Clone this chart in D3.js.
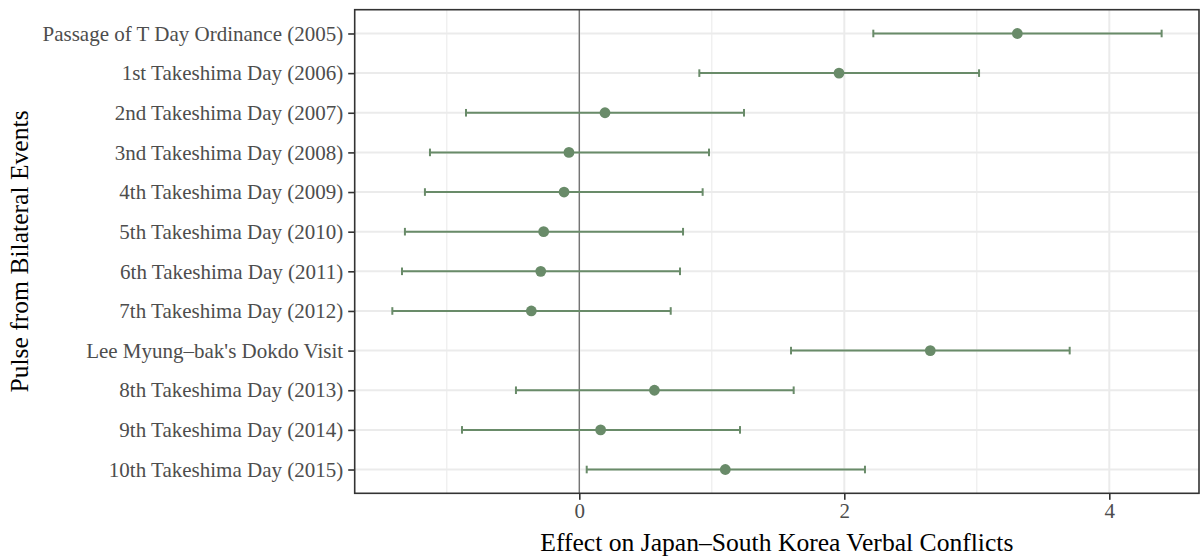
<!DOCTYPE html>
<html>
<head>
<meta charset="utf-8">
<script src="https://cdn.jsdelivr.net/npm/d3@7"></script>
<style>
  html, body { margin: 0; padding: 0; background: #ffffff; }
  svg { display: block; font-family: "Liberation Serif", "Times New Roman", serif; }
</style>
</head>
<body>
<svg id="chart" width="1203" height="559"></svg>
<script>
// Pulse estimates with lower / upper bounds, one row per event
const events = [
  "Passage of T Day Ordinance (2005)",
  "1st Takeshima Day (2006)",
  "2nd Takeshima Day (2007)",
  "3nd Takeshima Day (2008)",
  "4th Takeshima Day (2009)",
  "5th Takeshima Day (2010)",
  "6th Takeshima Day (2011)",
  "7th Takeshima Day (2012)",
  "Lee Myung\u2013bak's Dokdo Visit",
  "8th Takeshima Day (2013)",
  "9th Takeshima Day (2014)",
  "10th Takeshima Day (2015)"
];
const estimates = [3.306, 1.960, 0.194, -0.078, -0.115, -0.269, -0.291, -0.362, 2.649, 0.567, 0.161, 1.102];
const lowerBounds = [2.219, 0.906, -0.855, -1.127, -1.165, -1.316, -1.338, -1.411, 1.598, -0.478, -0.885, 0.056];
const upperBounds = [4.395, 3.017, 1.243, 0.979, 0.931, 0.783, 0.760, 0.690, 3.701, 1.618, 1.213, 2.156];
const majorTicks = [0, 2, 4];
const minorTicks = [-1, 1, 3];
const xTitle = "Effect on Japan\u2013South Korea Verbal Conflicts";
const yTitle = "Pulse from Bilateral Events";

const rows = events.map((name, i) => ({
  name, est: estimates[i], lo: lowerBounds[i], hi: upperBounds[i]
}));

const svg = d3.select("#chart");
const panel = { left: 354.7, top: 9.7, right: 1199, bottom: 493.3 };

const x = d3.scaleLinear()
  .domain([-1.695, 4.677])
  .range([panel.left, panel.right]);

// discrete axis with 0.6 band of padding at both ends
const y = d3.scalePoint()
  .domain(events)
  .range([panel.top, panel.bottom])
  .padding(0.6);

const markColor = "#698B69";
const gridColor = "#EBEBEB";

// gridlines
const grid = svg.append("g");
grid.selectAll("line.minor").data(minorTicks).join("line")
  .attr("x1", d => x(d)).attr("x2", d => x(d))
  .attr("y1", panel.top).attr("y2", panel.bottom)
  .attr("stroke", gridColor).attr("stroke-width", 1.1);
grid.selectAll("line.majx").data(majorTicks).join("line")
  .attr("x1", d => x(d)).attr("x2", d => x(d))
  .attr("y1", panel.top).attr("y2", panel.bottom)
  .attr("stroke", gridColor).attr("stroke-width", 2);
grid.selectAll("line.majy").data(events).join("line")
  .attr("x1", panel.left).attr("x2", panel.right)
  .attr("y1", d => y(d)).attr("y2", d => y(d))
  .attr("stroke", gridColor).attr("stroke-width", 2);

// reference line at zero
svg.append("line")
  .attr("x1", x(0)).attr("x2", x(0))
  .attr("y1", panel.top).attr("y2", panel.bottom)
  .attr("stroke", "#666666").attr("stroke-width", 1.2);

// error bars
const bars = svg.append("g").attr("stroke", markColor).attr("stroke-width", 2);
bars.selectAll("line.bar").data(rows).join("line")
  .attr("x1", d => x(d.lo)).attr("x2", d => x(d.hi))
  .attr("y1", d => y(d.name)).attr("y2", d => y(d.name));
bars.selectAll("line.capl").data(rows).join("line")
  .attr("x1", d => x(d.lo)).attr("x2", d => x(d.lo))
  .attr("y1", d => y(d.name) - 3.8).attr("y2", d => y(d.name) + 3.8);
bars.selectAll("line.caph").data(rows).join("line")
  .attr("x1", d => x(d.hi)).attr("x2", d => x(d.hi))
  .attr("y1", d => y(d.name) - 3.8).attr("y2", d => y(d.name) + 3.8);

// point estimates
svg.append("g").selectAll("circle").data(rows).join("circle")
  .attr("cx", d => x(d.est)).attr("cy", d => y(d.name))
  .attr("r", 5.4).attr("fill", markColor);

// panel border
svg.append("rect")
  .attr("x", panel.left).attr("y", panel.top)
  .attr("width", panel.right - panel.left).attr("height", panel.bottom - panel.top)
  .attr("fill", "none").attr("stroke", "#333333").attr("stroke-width", 1.6);

// axes
const xAxis = svg.append("g")
  .attr("transform", `translate(0,${panel.bottom})`)
  .call(d3.axisBottom(x).tickValues(majorTicks).tickSize(6.5).tickPadding(3).tickFormat(d3.format("d")));
const yAxis = svg.append("g")
  .attr("transform", `translate(${panel.left},0)`)
  .call(d3.axisLeft(y).tickSize(6.5).tickPadding(5));

[xAxis, yAxis].forEach(a => {
  a.select(".domain").remove();
  a.selectAll(".tick line").attr("stroke", "#333333").attr("stroke-width", 1.6);
  a.selectAll(".tick text")
    .attr("fill", "#4D4D4D")
    .style("font-family", "'Liberation Serif', serif")
    .style("font-size", "21px");
});

// axis titles
svg.append("text")
  .attr("x", (panel.left + panel.right) / 2).attr("y", 551)
  .attr("text-anchor", "middle")
  .style("font-size", "25.6px").attr("fill", "#000000")
  .text(xTitle);
svg.append("text")
  .attr("transform", `translate(28,${(panel.top + panel.bottom) / 2}) rotate(-90)`)
  .attr("text-anchor", "middle")
  .style("font-size", "25.6px").attr("fill", "#000000")
  .text(yTitle);
</script>
</body>
</html>
